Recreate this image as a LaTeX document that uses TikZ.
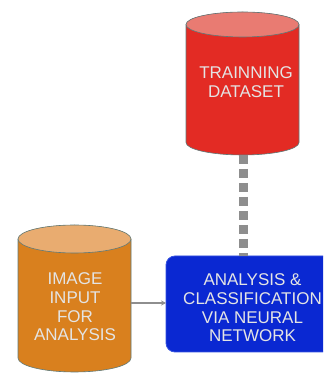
\documentclass[tikz,border=0pt]{standalone}
\usepackage{fontspec}
\setmainfont{Liberation Sans}
\definecolor{redbody}{HTML}{E32B24}
\definecolor{redtop}{HTML}{E97B72}
\definecolor{orbody}{HTML}{D9801E}
\definecolor{ortop}{HTML}{E9AC70}
\definecolor{nnblue}{HTML}{0A28D2}
\definecolor{nnedge}{HTML}{3552E0}
\definecolor{cyledge}{HTML}{5E7A7A}
\definecolor{conngray}{HTML}{8E8E8E}
\definecolor{labelgray}{HTML}{E4E4E4}
\tikzset{
  lbl/.style={text=labelgray, font=\fontsize{17}{18.7}\selectfont, align=center, inner sep=0pt},
  area/.style={inner sep=0pt, outer sep=0pt},
  cyl/.style={draw=cyledge, line width=0.6pt},
  dashconn/.style={draw=conngray, line width=8.5pt, dash pattern=on 9pt off 5pt},
  arrconn/.style={draw=conngray, line width=1.5pt, -{Stealth[length=5pt,width=5pt]}},
  nnbox/.style={fill=nnblue, draw=nnedge, line width=0.8pt, rounded corners=9pt, minimum width=172pt, minimum height=96pt, inner sep=0pt, outer sep=0pt}
}
\usetikzlibrary{arrows.meta}
\begin{document}
\begin{tikzpicture}[x=1pt,y=1pt]
\useasboundingbox (0,0) rectangle (323,379);
\fill[white] (0,0) rectangle (323,379);
\clip (0,0) rectangle (323,379);
% training dataset cylinder
\fill[redbody] (186,354.5) -- (186,236.5) arc[start angle=180,end angle=360,x radius=56.5pt,y radius=12.5pt] -- (299,354.5) arc[start angle=0,end angle=180,x radius=56.5pt,y radius=12.5pt] -- cycle;
\draw[cyl] (186,354.5) -- (186,236.5) arc[start angle=180,end angle=360,x radius=56.5pt,y radius=12.5pt] -- (299,354.5);
\filldraw[cyl,fill=redtop] (242.5,354.5) ellipse[x radius=56.5pt,y radius=12.5pt];
\node[area, minimum width=113pt, minimum height=143pt] (trainbody) at (243.5,295.5) {};
\node[lbl] (traintext) at (246,296.5) {TRAINNING\\DATASET};
% image input cylinder
\fill[orbody] (18,140) -- (18,21) arc[start angle=180,end angle=360,x radius=56.5pt,y radius=14pt] -- (131,140) arc[start angle=0,end angle=180,x radius=56.5pt,y radius=14pt] -- cycle;
\draw[cyl] (18,140) -- (18,21) arc[start angle=180,end angle=360,x radius=56.5pt,y radius=14pt] -- (131,140);
\filldraw[cyl,fill=ortop] (74.5,140) ellipse[x radius=56.5pt,y radius=14pt];
\node[area, minimum width=113pt, minimum height=136pt] (imgbody) at (74.5,76) {};
\node[lbl] (imgtext) at (75,72) {IMAGE\\INPUT\\FOR\\ANALYSIS};
% neural network box
\node[nnbox] (nn) at (252,75) {};
\node[lbl] (nntext) at (252.5,71) {ANALYSIS \&\\CLASSIFICATION\\VIA NEURAL\\NETWORK};
% connectors
\draw[dashconn] (trainbody.south) -- (trainbody.south |- nn.north);
\draw[arrconn] (imgbody.east) -- (imgbody.east -| nn.west);
\end{tikzpicture}
\end{document}
